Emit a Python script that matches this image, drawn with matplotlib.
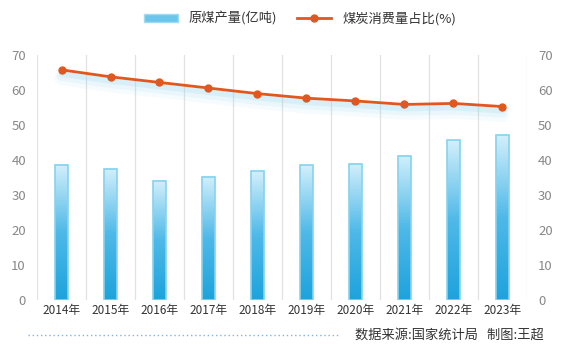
import numpy as np
import matplotlib
matplotlib.use('Agg')
import matplotlib.pyplot as plt
from matplotlib.colors import LinearSegmentedColormap
from matplotlib.lines import Line2D
from matplotlib.patches import Patch

plt.rcParams['font.family'] = ['Noto Sans CJK SC', 'DejaVu Sans']

years = ['2014年', '2015年', '2016年', '2017年', '2018年',
         '2019年', '2020年', '2021年', '2022年', '2023年']
coal_output = [38.7, 37.5, 34.1, 35.2, 36.8, 38.5, 39.0, 41.3, 45.6, 47.1]
coal_share = [65.8, 63.8, 62.2, 60.6, 59.0, 57.7, 56.9, 55.9, 56.2, 55.3]
y_ticks = [0, 10, 20, 30, 40, 50, 60, 70]

fig = plt.figure(figsize=(5.66, 3.49), dpi=100)
ax = fig.add_axes([0.0654, 0.1404, 0.8656, 0.7016])
ax2 = ax.twinx()

x = np.arange(len(years))
w = 0.25
cmap = LinearSegmentedColormap.from_list('bar', ['#1ea3dc', '#4fb9e8', '#d2effb'])
grad = np.linspace(0, 1, 100).reshape(-1, 1)
for xi, h in zip(x, coal_output):
    ax.imshow(grad, extent=[xi - w / 2, xi + w / 2, 0, h], origin='lower',
              aspect='auto', cmap=cmap, zorder=2)
ax.bar(x, coal_output, width=w, fill=False, edgecolor='#86d3ef', linewidth=1.2, zorder=3)

# soft glow under the line
for off, lw, a in [(2.4, 10, 0.08), (1.8, 7, 0.12), (1.2, 4, 0.18)]:
    ax.plot(x, np.array(coal_share) - off, color='#8fd2ef', lw=lw, alpha=a,
            solid_capstyle='round', zorder=3)
ax.plot(x, coal_share, color='#e0581f', lw=2, marker='o', markersize=5, zorder=4)

for b in np.arange(-0.5, len(years), 1):
    ax.axvline(b, color='#e2e2e2', lw=0.9, zorder=1)

ax.set_xlim(-0.5, len(years) - 0.5)
ax.set_ylim(0, 70)
ax2.set_ylim(0, 70)
ax.set_yticks(y_ticks)
ax2.set_yticks(y_ticks)
ax.set_xticks(x)
ax.set_xticklabels(years, fontsize=8.5, color='#333333')
ax.tick_params(axis='y', length=0, pad=8, labelsize=9.5, labelcolor='#888888')
ax2.tick_params(axis='y', length=0, pad=8, labelsize=9.5, labelcolor='#888888')
ax.tick_params(axis='x', length=0, pad=3)
for a in (ax, ax2):
    for s in a.spines.values():
        s.set_visible(False)

handles = [Patch(facecolor='#6cc6ec', edgecolor='#9fdcf3', label='原煤产量(亿吨)'),
           Line2D([], [], color='#e0581f', lw=2, marker='o', markersize=5,
                  label='煤炭消费量占比(%)')]
fig.legend(handles=handles, loc='upper center', bbox_to_anchor=(0.53, 1.0), ncol=2,
           frameon=False, fontsize=9.5, handlelength=2.6, handleheight=0.6,
           columnspacing=1.5, labelcolor='#333333')

fig.add_artist(Line2D([0.05, 0.6], [0.04, 0.04], color='#7fb3e0', lw=1,
                      linestyle=(0, (1, 2)), transform=fig.transFigure))
fig.text(0.96, 0.04, '数据来源:国家统计局   制图:王超', ha='right', va='center',
         fontsize=9.5, color='#333333')

fig.savefig('out.png', dpi=100)
